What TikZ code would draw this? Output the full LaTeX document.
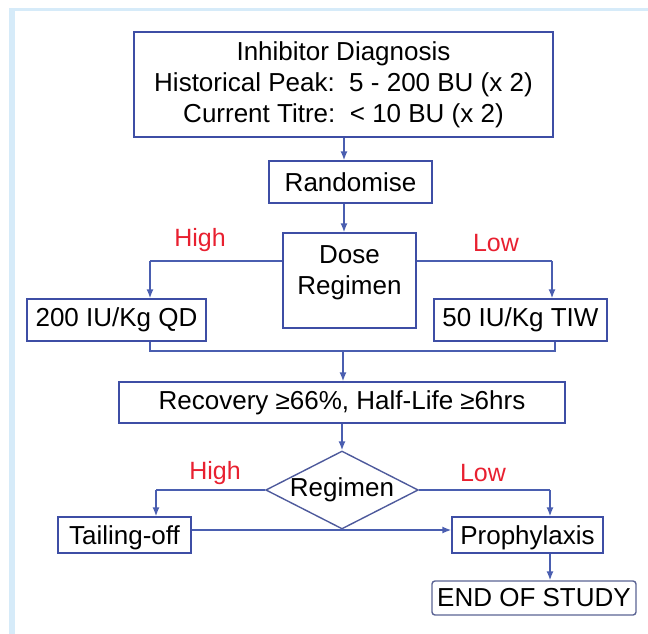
\documentclass[tikz,border=0pt]{standalone}
\usepackage{fontspec}
\setmainfont{Liberation Sans}
\usetikzlibrary{arrows.meta,shapes.geometric}
\definecolor{boxblue}{RGB}{62,78,165}
\definecolor{lineblue}{RGB}{74,94,176}
\definecolor{lblred}{RGB}{232,32,48}
\definecolor{edgeblue}{RGB}{214,235,249}

\begin{document}
\begin{tikzpicture}[x=1pt,y=-1pt,
  box/.style={draw=boxblue, line width=1.4pt, inner sep=0pt, align=center,
    font=\fontsize{26}{31}\selectfont},
  diam/.style={diamond, draw=boxblue!75!gray, line width=1.4pt, inner sep=0pt,
    aspect=2, minimum width=146pt, minimum height=78pt,
    font=\fontsize{26}{31}\selectfont},
  lbl/.style={text=lblred, inner sep=0pt, font=\fontsize{25}{30}\selectfont},
  conn/.style={draw=lineblue, line width=1.4pt},
  arr/.style={conn, -{Latex[length=9pt,width=7pt]}}]
\newcommand\brY{261}
\newcommand\mgY{351}
\newcommand\rgY{490}
% frame
\useasboundingbox (0,0) rectangle (648,634);
\fill[edgeblue] (9,8) rectangle (648,11);
\fill[edgeblue] (9,8) rectangle (15,634);

% boxes
\node[box, minimum width=419pt, minimum height=105pt] (diag) at (343.5,84.5)
  {Inhibitor Diagnosis\\Historical Peak:\ \ 5 - 200 BU (x 2)\\Current Titre:\ \ < 10 BU (x 2)};
\node[box, minimum width=163pt, minimum height=42pt] (rand) at (350.5,182) {Randomise};
\node[box, minimum width=133pt, minimum height=95pt] (dose) at (349.5,280.5) {Dose\\Regimen\\[-19pt]\strut};
\node[box, minimum width=179pt, minimum height=42pt] (qd) at (116.5,320) {200 IU/Kg QD};
\node[box, minimum width=173pt, minimum height=42pt] (tiw) at (520.5,320) {50 IU/Kg TIW};
\node[box, minimum width=446pt, minimum height=41pt] (rec) at (342,402.5)
  {Recovery ≥66\%, Half-Life ≥6hrs};
\node[diam] (reg) at (342,\rgY) {Regimen};
\node[box, minimum width=133pt, minimum height=36pt, text depth=0pt] (tail) at (124.5,535) {Tailing-off};
\node[box, minimum width=151pt, minimum height=36pt, text depth=0pt] (pro) at (527.5,535) {Prophylaxis};
\node[box, draw=boxblue!55!gray, rounded corners=3pt, minimum width=204pt, minimum height=34pt] (end) at (534,598) {END OF STUDY};

% labels
\node[lbl] (hiA) at (200,240) {High};
\node[lbl] (loA) at (496,243) {Low};
\node[lbl] (hiB) at (215,473) {High};
\node[lbl] (loB) at (483,473) {Low};

% branch points
\coordinate (brL) at (150,\brY);
\coordinate (brR) at (552,\brY);
\coordinate (mgL) at (150,\mgY);
\coordinate (mgR) at (555,\mgY);
\coordinate (mgC) at (343,\mgY);
\coordinate (rgL) at (156,\rgY);
\coordinate (rgR) at (550,\rgY);

% arrows
\draw[arr] (diag.south -| 344,0) -- (rand.north -| 344,0);
\draw[arr] (rand.south -| 344,0) -- (dose.north -| 344,0);
\draw[conn] (dose.west |- brL) -- (brL);
\draw[arr] (brL) -- (brL |- qd.north);
\draw[conn] (dose.east |- brR) -- (brR);
\draw[arr] (brR) -- (brR |- tiw.north);
\draw[conn] (mgL |- qd.south) -- (mgL) -- (mgR) -- (mgR |- tiw.south);
\draw[arr] (mgC) -- (mgC |- rec.north);
\draw[arr] (rec.south -| reg.north) -- (reg.north);
\draw[conn] (reg.west) -- (rgL);
\draw[arr] (rgL) -- (rgL |- tail.north);
\draw[conn] (reg.east) -- (rgR);
\draw[arr] (rgR) -- (rgR |- pro.north);
\draw[arr] (tail.east |- 0,530) -- (pro.west |- 0,530);
\draw[arr] (pro.south -| 550,0) -- (end.north -| 550,0);
\end{tikzpicture}
\end{document}
